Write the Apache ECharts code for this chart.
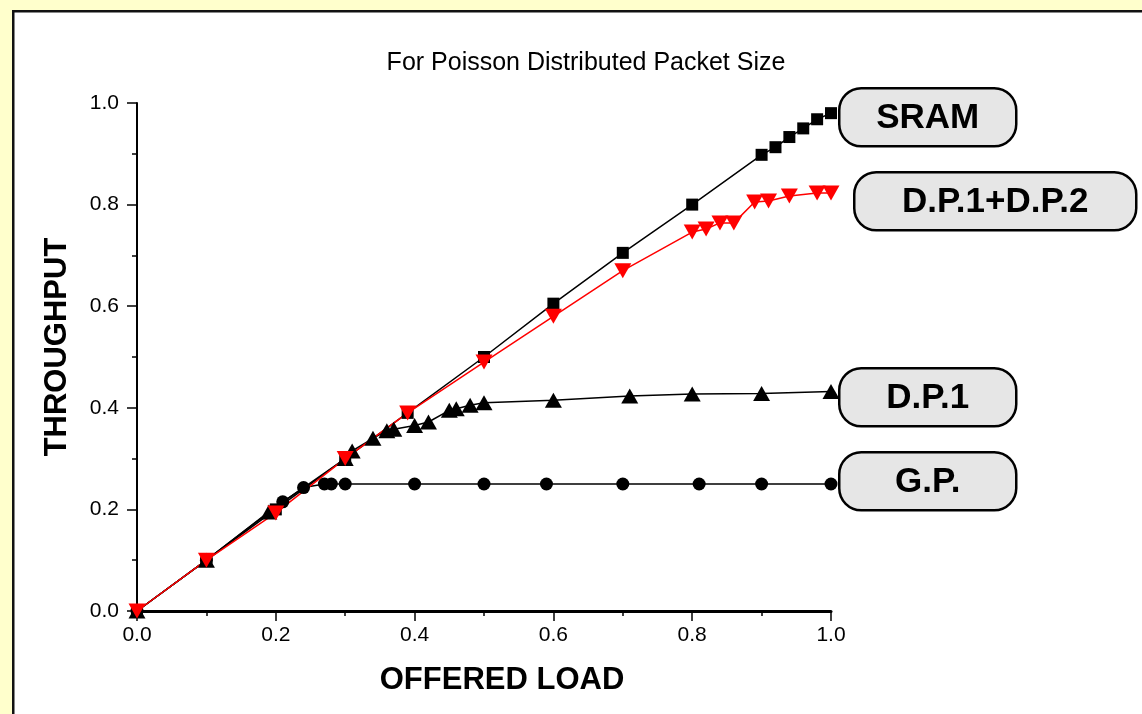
<!DOCTYPE html>
<html>
<head>
<meta charset="utf-8">
<script src="https://cdn.jsdelivr.net/npm/echarts@6/dist/echarts.min.js"></script>
<style>
  html, body { margin: 0; padding: 0; background: #FFFFCC; }
  #chart { width: 1142px; height: 714px; }
</style>
</head>
<body>
<div id="chart"></div>
<script>
// offered load / throughput
const sramX = [0, 0.1, 0.2, 0.3, 0.39, 0.5, 0.6, 0.7, 0.8, 0.9, 0.92, 0.94, 0.96, 0.98, 1.0];
const sramY = [0, 0.1, 0.2, 0.3, 0.39, 0.5, 0.605, 0.705, 0.8, 0.898, 0.913, 0.933, 0.95, 0.968, 0.98];

const dp12X = [0, 0.1, 0.2, 0.3, 0.39, 0.5, 0.6, 0.7, 0.8, 0.82, 0.84, 0.86, 0.89, 0.91, 0.94, 0.98, 1.0];
const dp12Y = [0, 0.1, 0.193, 0.3, 0.39, 0.49, 0.58, 0.67, 0.746, 0.752, 0.764, 0.764, 0.805, 0.807, 0.817, 0.823, 0.823];

const dp1X = [0, 0.1, 0.19, 0.3, 0.31, 0.34, 0.36, 0.37, 0.4, 0.42, 0.45, 0.46, 0.48, 0.5, 0.6, 0.71, 0.8, 0.9, 1.0];
const dp1Y = [0, 0.1, 0.195, 0.3, 0.315, 0.34, 0.355, 0.358, 0.365, 0.372, 0.395, 0.398, 0.405, 0.41, 0.415, 0.423, 0.427, 0.428, 0.432];

const gpX = [0, 0.1, 0.21, 0.24, 0.27, 0.28, 0.3, 0.4, 0.5, 0.59, 0.7, 0.81, 0.9, 1.0];
const gpY = [0, 0.1, 0.215, 0.243, 0.25, 0.25, 0.25, 0.25, 0.25, 0.25, 0.25, 0.25, 0.25, 0.25];

const tickLabels = ['0.0', '0.2', '0.4', '0.6', '0.8', '1.0'];

const zip = (xs, ys) => xs.map((x, i) => [x, ys[i]]);

// callout boxes at the right end of each curve
const pill = (name, left, top, width) => ({
  type: 'group',
  left: left,
  top: top,
  z: 100,
  children: [
    {
      type: 'rect',
      shape: { x: 0, y: 0, width: width, height: 58, r: 22 },
      style: { fill: '#E6E6E6', stroke: '#000', lineWidth: 2.5 }
    },
    {
      type: 'text',
      x: width / 2,
      y: 30,
      style: {
        text: name,
        fill: '#000',
        font: 'bold 35px "Liberation Sans", Arial, sans-serif',
        align: 'center',
        verticalAlign: 'middle'
      }
    }
  ]
});

const chart = echarts.init(document.getElementById('chart'));
const axisFont = '"Liberation Sans", Arial, sans-serif';

const option = {
  backgroundColor: '#FFFFCC',
  animation: false,
  title: {
    text: 'For Poisson Distributed Packet Size',
    left: 581,
    top: 46,
    textAlign: 'center',
    textStyle: { fontSize: 25, fontWeight: 'normal', color: '#000', fontFamily: axisFont }
  },
  grid: { left: 137, top: 103, width: 694, height: 508 },
  xAxis: {
    type: 'value',
    min: 0,
    max: 1,
    interval: 0.2,
    name: 'OFFERED LOAD',
    nameLocation: 'middle',
    nameGap: 54,
    nameTextStyle: {
      fontSize: 31, fontWeight: 'bold', color: '#000', fontFamily: axisFont,
      padding: [0, 0, 0, 36]
    },
    splitLine: { show: false },
    axisLine: { lineStyle: { color: '#000', width: 3 } },
    axisTick: { length: 10, lineStyle: { color: '#000', width: 1.5 } },
    minorTick: { show: true, splitNumber: 2, length: 5, lineStyle: { color: '#000', width: 1.5 } },
    axisLabel: {
      fontSize: 21, color: '#000', fontFamily: axisFont, margin: 14,
      formatter: (v) => tickLabels[Math.round(v * 5)]
    }
  },
  yAxis: {
    type: 'value',
    min: 0,
    max: 1,
    interval: 0.2,
    name: 'THROUGHPUT',
    nameLocation: 'middle',
    nameGap: 64,
    nameTextStyle: {
      fontSize: 31, fontWeight: 'bold', color: '#000', fontFamily: axisFont,
      padding: [0, 0, 0, 20]
    },
    splitLine: { show: false },
    axisLine: { show: true, lineStyle: { color: '#000', width: 2 } },
    axisTick: { show: true, length: 10, lineStyle: { color: '#000', width: 1.5 } },
    minorTick: { show: true, splitNumber: 2, length: 5, lineStyle: { color: '#000', width: 1.5 } },
    axisLabel: {
      fontSize: 21, color: '#000', fontFamily: axisFont, margin: 18,
      formatter: (v) => tickLabels[Math.round(v * 5)]
    }
  },
  series: [
    {
      name: 'SRAM',
      type: 'line',
      data: zip(sramX, sramY),
      symbol: 'rect',
      symbolSize: 12,
      lineStyle: { color: '#000', width: 1.5 },
      itemStyle: { color: '#000' }
    },
    {
      name: 'D.P.1',
      type: 'line',
      data: zip(dp1X, dp1Y),
      symbol: 'triangle',
      symbolSize: [17, 15],
      lineStyle: { color: '#000', width: 1.5 },
      itemStyle: { color: '#000' }
    },
    {
      name: 'G.P.',
      type: 'line',
      data: zip(gpX, gpY),
      symbol: 'circle',
      symbolSize: 13,
      lineStyle: { color: '#000', width: 1.5 },
      itemStyle: { color: '#000' }
    },
    {
      name: 'D.P.1+D.P.2',
      type: 'line',
      data: zip(dp12X, dp12Y),
      symbol: 'triangle',
      symbolRotate: 180,
      symbolSize: [17, 15],
      lineStyle: { color: '#FF0000', width: 1.5 },
      itemStyle: { color: '#FF0000' }
    }
  ],
  graphic: [
    {
      type: 'rect',
      left: 12,
      top: 10,
      z: -10,
      shape: { width: 1200, height: 800 },
      style: { fill: '#fff', stroke: '#111', lineWidth: 2.5 }
    },
    pill('SRAM', 838, 87, 177),
    pill('D.P.1+D.P.2', 853, 171, 282),
    pill('D.P.1', 838, 367, 177),
    pill('G.P.', 838, 451, 177)
  ]
};

chart.setOption(option);
</script>
</body>
</html>
